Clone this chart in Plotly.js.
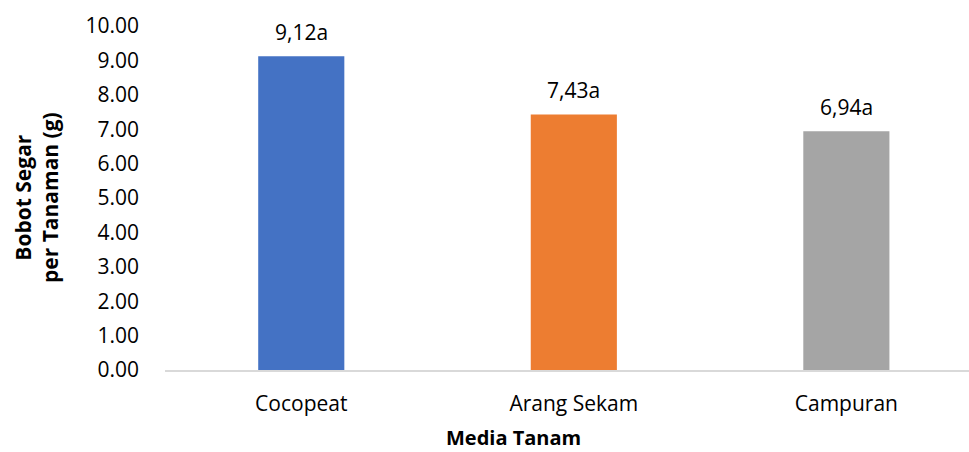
<!DOCTYPE html>
<html>
<head>
<meta charset="utf-8">
<script src="https://cdn.plot.ly/plotly-3.0.1.min.js"></script>
<style>html,body{margin:0;padding:0;background:#fff;}</style>
</head>
<body>
<div id="chart" style="width:969px;height:452px;"></div>
<script>
const categories = ["Cocopeat", "Arang Sekam", "Campuran"];
const values = [9.12, 7.43, 6.94];
const labels = ["9,12a", "7,43a", "6,94a"];
const colors = ["#4472C4", "#ED7D31", "#A5A5A5"];
const yTicks = [0,1,2,3,4,5,6,7,8,9,10];
const yTickText = yTicks.map(v => v.toFixed(2));

const font = "Open Sans, Liberation Sans, sans-serif";

const trace = {
  type: "bar",
  x: categories,
  y: values,
  marker: {color: colors},
  width: 0.316,
  hoverinfo: "none"
};

const valueAnnotations = categories.map((c, i) => ({
  x: c, y: values[i], xref: "x", yref: "y",
  text: labels[i], showarrow: false,
  xanchor: "center", yanchor: "bottom", yshift: 8,
  font: {family: font, size: 21, color: "#000"}
}));

const layout = {
  width: 969, height: 452,
  margin: {l: 165, r: 0, t: 26, b: 82},
  paper_bgcolor: "#fff", plot_bgcolor: "#fff",
  showlegend: false,
  font: {family: font, color: "#000"},
  xaxis: {
    range: [-0.5, 2.45],
    showline: true, linecolor: "#d9d9d9", linewidth: 2,
    ticks: "", showgrid: false, zeroline: false,
    ticklabelstandoff: 14,
    tickfont: {family: font, size: 21, color: "#000"},
    fixedrange: true
  },
  yaxis: {
    range: [0, 10],
    tickvals: yTicks, ticktext: yTickText,
    showline: false, showgrid: false, zeroline: false, ticks: "",
    ticklabelstandoff: 25,
    tickfont: {family: font, size: 21, color: "#000"},
    fixedrange: true
  },
  annotations: valueAnnotations.concat([
    {text: "<b>Bobot Segar<br>per Tanaman (g)</b>", textangle: -90,
     xref: "paper", yref: "paper", x: (36 - 165) / 804, y: 0.5,
     xanchor: "center", yanchor: "middle", showarrow: false,
     font: {family: font, size: 21, color: "#000"}},
    {text: "<b>Media Tanam</b>",
     xref: "paper", yref: "paper", x: (513 - 165) / 804, y: -(437 - 370) / 344,
     xanchor: "center", yanchor: "middle", showarrow: false,
     font: {family: font, size: 20, color: "#000"}}
  ])
};

Plotly.newPlot("chart", [trace], layout, {displayModeBar: false, staticPlot: true});
</script>
</body>
</html>
